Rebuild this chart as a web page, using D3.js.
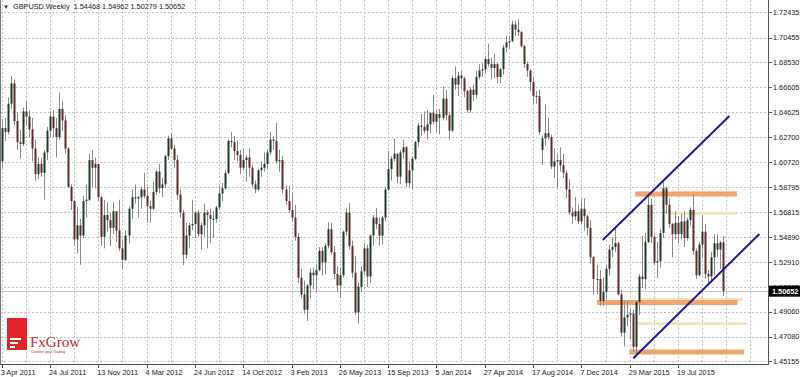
<!DOCTYPE html>
<html>
<head>
<meta charset="utf-8">
<script src="https://cdn.jsdelivr.net/npm/d3@7"></script>
<style>
    body { margin: 0; background: #fff; }
    svg { display: block; font-family: "Liberation Sans", Arial, sans-serif; }
</style>
</head>
<body>
<svg id="chart"></svg>
<script>
// weekly GBPUSD candles [open, high, low, close], week starts on Sunday
const symbol = "GBPUSD.Weekly";
const ohlc2011 = [ // from 3 Apr 2011
    [1.6080,1.6410,1.6030,1.6340],[1.6340,1.6420,1.6240,1.6310],[1.6310,1.6580,1.6290,1.6530],[1.6530,1.6747,1.6490,1.6690],
    [1.6690,1.6720,1.6360,1.6395],[1.6395,1.6460,1.6170,1.6230],[1.6230,1.6330,1.6100,1.6215],[1.6215,1.6500,1.6200,1.6470],
    [1.6470,1.6550,1.6360,1.6430],[1.6430,1.6480,1.6270,1.6330],[1.6330,1.6420,1.6080,1.6180],[1.6180,1.6250,1.5930,1.5980],
    [1.5980,1.6110,1.5940,1.6060],[1.6060,1.6110,1.5960,1.5990],[1.5990,1.6170,1.5780,1.6150],[1.6150,1.6350,1.6090,1.6320],
    [1.6320,1.6470,1.6270,1.6430],[1.6430,1.6480,1.6270,1.6340],[1.6340,1.6420,1.6110,1.6270],[1.6270,1.6618,1.6250,1.6490],
    [1.6490,1.6550,1.6320,1.6400],[1.6400,1.6440,1.6140,1.6180],[1.6180,1.6190,1.5870,1.5880],[1.5880,1.5900,1.5700,1.5770],
    [1.5770,1.5780,1.5420,1.5470],[1.5470,1.5720,1.5360,1.5580],[1.5580,1.5630,1.5272,1.5500],[1.5500,1.5810,1.5480,1.5770],
    [1.5770,1.5900,1.5640,1.5780],[1.5780,1.6140,1.5770,1.6090],[1.6090,1.6166,1.5880,1.6030],[1.6030,1.6110,1.5870,1.6060],
    [1.6060,1.6060,1.5770,1.5800],[1.5800,1.5810,1.5420,1.5490],[1.5490,1.5780,1.5400,1.5660],[1.5660,1.5760,1.5530,1.5620],
    [1.5620,1.5680,1.5420,1.5560],[1.5560,1.5760,1.5510,1.5690],[1.5690,1.5690,1.5450,1.5540]
];
const ohlc2012 = [
    [1.5540,1.5780,1.5380,1.5400],[1.5400,1.5470,1.5234,1.5310],[1.5310,1.5540,1.5300,1.5500],[1.5500,1.5730,1.5440,1.5710],
    [1.5710,1.5860,1.5630,1.5800],[1.5800,1.5900,1.5750,1.5790],[1.5790,1.5810,1.5640,1.5800],[1.5800,1.5880,1.5710,1.5860],
    [1.5860,1.5990,1.5790,1.5810],[1.5810,1.5880,1.5600,1.5730],[1.5730,1.5770,1.5600,1.5710],[1.5710,1.5920,1.5700,1.5840],
    [1.5840,1.6010,1.5820,1.6000],[1.6000,1.6060,1.5830,1.5870],[1.5870,1.5950,1.5800,1.5900],[1.5900,1.6130,1.5870,1.6120],
    [1.6120,1.6280,1.6090,1.6260],[1.6260,1.6301,1.6170,1.6180],[1.6180,1.6210,1.6030,1.6090],[1.6090,1.6130,1.5780,1.5820],
    [1.5820,1.5860,1.5640,1.5680],[1.5680,1.5700,1.5268,1.5350],[1.5350,1.5600,1.5320,1.5500],[1.5500,1.5600,1.5400,1.5580],
    [1.5580,1.5780,1.5540,1.5590],[1.5590,1.5690,1.5480,1.5680],[1.5680,1.5700,1.5490,1.5510],[1.5510,1.5600,1.5390,1.5580],
    [1.5580,1.5750,1.5490,1.5680],[1.5680,1.5700,1.5400,1.5660],[1.5660,1.5710,1.5440,1.5630],[1.5630,1.5690,1.5480,1.5630],
    [1.5630,1.5730,1.5600,1.5720],[1.5720,1.5890,1.5700,1.5830],[1.5830,1.5910,1.5770,1.5870],[1.5870,1.6010,1.5860,1.5990],
    [1.5990,1.6250,1.5980,1.6240],[1.6240,1.6309,1.6190,1.6230],[1.6230,1.6280,1.6090,1.6160],[1.6160,1.6240,1.6080,1.6130],
    [1.6130,1.6170,1.5980,1.6030],[1.6030,1.6180,1.6010,1.6090],[1.6090,1.6130,1.5920,1.6110],[1.6110,1.6180,1.5960,1.6030],
    [1.6030,1.6050,1.5880,1.5900],[1.5900,1.5930,1.5830,1.5860],[1.5860,1.6020,1.5850,1.6010],[1.6010,1.6080,1.5960,1.6030],
    [1.6030,1.6150,1.6000,1.6060],[1.6060,1.6170,1.6020,1.6150],[1.6150,1.6307,1.6130,1.6250],[1.6250,1.6280,1.6170,1.6240],
    [1.6240,1.6380,1.6060,1.6080]
];
const ohlc2013 = [
    [1.6080,1.6170,1.6000,1.6090],[1.6090,1.6120,1.5830,1.5860],[1.5860,1.5890,1.5740,1.5770],[1.5770,1.5890,1.5680,1.5700],
    [1.5700,1.5830,1.5610,1.5640],[1.5640,1.5740,1.5460,1.5490],[1.5490,1.5520,1.5130,1.5170],[1.5170,1.5240,1.5010,1.5040],
    [1.5040,1.5150,1.4890,1.4920],[1.4920,1.5120,1.4832,1.5110],[1.5110,1.5240,1.5010,1.5210],[1.5210,1.5250,1.5080,1.5190],
    [1.5190,1.5280,1.5060,1.5230],[1.5230,1.5410,1.5220,1.5380],[1.5380,1.5410,1.5190,1.5290],[1.5290,1.5440,1.5200,1.5420],
    [1.5420,1.5604,1.5400,1.5550],[1.5550,1.5600,1.5350,1.5370],[1.5370,1.5420,1.5160,1.5200],[1.5200,1.5260,1.5060,1.5110],
    [1.5110,1.5250,1.5010,1.5190],[1.5190,1.5540,1.5170,1.5530],[1.5530,1.5710,1.5500,1.5680],[1.5680,1.5752,1.5390,1.5420],
    [1.5420,1.5460,1.5170,1.5210],[1.5210,1.5340,1.4880,1.4900],[1.4900,1.5130,1.4813,1.5100],[1.5100,1.5260,1.5060,1.5220],
    [1.5220,1.5440,1.5190,1.5400],[1.5400,1.5430,1.5100,1.5180],[1.5180,1.5510,1.5130,1.5500],[1.5500,1.5660,1.5420,1.5640],
    [1.5640,1.5717,1.5550,1.5590],[1.5590,1.5640,1.5420,1.5500],[1.5500,1.5650,1.5430,1.5640],[1.5640,1.5880,1.5610,1.5860],
    [1.5860,1.6160,1.5850,1.6020],[1.6020,1.6120,1.5930,1.6100],[1.6100,1.6259,1.6080,1.6140],[1.6140,1.6140,1.5910,1.5960],
    [1.5960,1.6170,1.5900,1.6150],[1.6150,1.6250,1.6100,1.6190],[1.6190,1.6200,1.5880,1.5910],[1.5910,1.6080,1.5880,1.6010],
    [1.6010,1.6120,1.5860,1.6100],[1.6100,1.6240,1.6090,1.6230],[1.6230,1.6380,1.6190,1.6360],[1.6360,1.6450,1.6280,1.6350],
    [1.6350,1.6470,1.6300,1.6320],[1.6320,1.6480,1.6250,1.6370],[1.6370,1.6460,1.6300,1.6460],[1.6460,1.6602,1.6370,1.6390]
];
const ohlc2014 = [
    [1.6390,1.6480,1.6310,1.6450],[1.6450,1.6490,1.6290,1.6420],[1.6420,1.6668,1.6400,1.6570],[1.6570,1.6640,1.6400,1.6440],
    [1.6440,1.6460,1.6250,1.6320],[1.6320,1.6750,1.6310,1.6730],[1.6730,1.6823,1.6640,1.6680],[1.6680,1.6780,1.6590,1.6750],
    [1.6750,1.6790,1.6650,1.6730],[1.6730,1.6740,1.6580,1.6630],[1.6630,1.6640,1.6460,1.6480],[1.6480,1.6660,1.6460,1.6640],
    [1.6640,1.6680,1.6550,1.6600],[1.6600,1.6790,1.6570,1.6740],[1.6740,1.6840,1.6720,1.6790],[1.6790,1.6850,1.6740,1.6800],
    [1.6800,1.6900,1.6760,1.6880],[1.6880,1.7000,1.6820,1.6840],[1.6840,1.6890,1.6720,1.6810],[1.6810,1.6920,1.6730,1.6840],
    [1.6840,1.6850,1.6690,1.6740],[1.6740,1.6810,1.6690,1.6800],[1.6800,1.6990,1.6760,1.6970],[1.6970,1.7060,1.6930,1.7010],
    [1.7010,1.7060,1.6960,1.7020],[1.7020,1.7180,1.7010,1.7150],[1.7150,1.7180,1.7060,1.7110],[1.7110,1.7192,1.7060,1.7090],
    [1.7090,1.7100,1.6970,1.6980],[1.6980,1.6990,1.6810,1.6840],[1.6840,1.6860,1.6740,1.6790],[1.6790,1.6800,1.6630,1.6700],
    [1.6700,1.6740,1.6530,1.6590],[1.6590,1.6630,1.6530,1.6590],[1.6590,1.6640,1.6290,1.6310],[1.6170,1.6280,1.6052,1.6260],
    [1.6260,1.6525,1.6200,1.6300],[1.6300,1.6420,1.6250,1.6270],[1.6270,1.6290,1.6020,1.6040],[1.6040,1.6180,1.5950,1.6080],
    [1.6080,1.6140,1.5875,1.6090],[1.6090,1.6190,1.6000,1.6050],[1.6050,1.6140,1.5950,1.5990],[1.5990,1.6010,1.5790,1.5860],
    [1.5860,1.5940,1.5660,1.5680],[1.5680,1.5720,1.5590,1.5650],[1.5650,1.5800,1.5620,1.5690],[1.5690,1.5740,1.5590,1.5610],
    [1.5610,1.5790,1.5590,1.5710],[1.5710,1.5790,1.5540,1.5650],[1.5650,1.5660,1.5500,1.5560],[1.5560,1.5620,1.5280,1.5330]
];
const ohlc2015 = [ // up to the week of 1 Nov 2015
    [1.5330,1.5340,1.5035,1.5160],[1.5160,1.5270,1.5040,1.5160],[1.5160,1.5230,1.4952,1.4990],[1.4990,1.5170,1.4950,1.5060],
    [1.5060,1.5270,1.5000,1.5240],[1.5240,1.5430,1.5190,1.5390],[1.5390,1.5490,1.5330,1.5410],[1.5410,1.5552,1.5370,1.5440],
    [1.5440,1.5450,1.5030,1.5040],[1.5040,1.5080,1.4710,1.4740],[1.4740,1.4990,1.4634,1.4860],[1.4860,1.4990,1.4790,1.4880],
    [1.4880,1.4930,1.4690,1.4890],[1.4890,1.4920,1.4590,1.4630],[1.4630,1.4990,1.4565,1.4980],[1.4980,1.5200,1.4880,1.5180],
    [1.5180,1.5498,1.5090,1.5160],[1.5160,1.5520,1.5080,1.5450],[1.5450,1.5815,1.5440,1.5740],[1.5740,1.5790,1.5440,1.5490],
    [1.5490,1.5510,1.5270,1.5290],[1.5290,1.5450,1.5170,1.5300],[1.5300,1.5550,1.5250,1.5520],[1.5520,1.5930,1.5480,1.5870],
    [1.5870,1.5880,1.5670,1.5740],[1.5740,1.5790,1.5560,1.5590],[1.5590,1.5600,1.5330,1.5510],[1.5510,1.5690,1.5470,1.5600],
    [1.5600,1.5650,1.5440,1.5510],[1.5510,1.5670,1.5470,1.5610],[1.5610,1.5690,1.5410,1.5480],[1.5480,1.5640,1.5460,1.5620],
    [1.5620,1.5720,1.5580,1.5700],[1.5700,1.5820,1.5350,1.5380],[1.5380,1.5400,1.5160,1.5190],[1.5190,1.5450,1.5180,1.5430],
    [1.5430,1.5660,1.5330,1.5530],[1.5530,1.5590,1.5160,1.5200],[1.5200,1.5230,1.5110,1.5180],[1.5180,1.5370,1.5130,1.5330],
    [1.5330,1.5510,1.5190,1.5440],[1.5440,1.5510,1.5330,1.5390],[1.5390,1.5460,1.5240,1.54468],[1.54468,1.54962,1.50279,1.50652]
];

const priceTicks = [1.72435, 1.70455, 1.68530, 1.66605, 1.64625, 1.62700, 1.60720, 1.58795,
    1.56815, 1.54890, 1.52910, 1.50985, 1.49060, 1.47080, 1.45155];
// one label every 16 weeks, grid every 8 weeks
const dateLabels = ["3 Apr 2011", "24 Jul 2011", "13 Nov 2011", "4 Mar 2012", "24 Jun 2012", "14 Oct 2012",
    "3 Feb 2013", "26 May 2013", "15 Sep 2013", "5 Jan 2014", "27 Apr 2014", "17 Aug 2014",
    "7 Dec 2014", "29 Mar 2015", "19 Jul 2015"];
const lastPrice = 1.50652;

// drawn objects: [week from, price from, week to, price to]
const trendLines = [[199.07, 1.54652, 241.0, 1.64345], [209.2, 1.45405, 250.94, 1.55121]];
// levels: [week from, week to, price]
const strongLevels = [[209.8, 243.6, 1.58248], [197.1, 243.7, 1.49767], [207.9, 245.9, 1.45897]];
const weakLevels = [[221.4, 243.6, 1.56739], [211.8, 245.5, 1.50002], [210.4, 246.8, 1.48110]];

const candles = [...ohlc2011, ...ohlc2012, ...ohlc2013, ...ohlc2014, ...ohlc2015]
    .map((d, i) => ({i: i, o: d[0], h: d[1], l: d[2], c: d[3]}));

const W = 800, H = 377;
const plot = {left: 0, right: 768, top: 0, bottom: 364};

const svg = d3.select("#chart").attr("width", W).attr("height", H);

const x = d3.scaleLinear().domain([-0.56, 253.8]).range([plot.left, plot.right]);
const y = d3.scaleLinear().domain([1.44959, 1.73412]).range([plot.bottom, plot.top]);

const fmt = d3.format(".5f");

// grid
const grid = svg.append("g").attr("stroke", "#c4c4c4").attr("stroke-dasharray", "2,2").attr("stroke-width", 1);
grid.selectAll(".hg").data(priceTicks).join("line")
    .attr("x1", plot.left).attr("x2", plot.right)
    .attr("y1", d => Math.round(y(d)) + 0.5).attr("y2", d => Math.round(y(d)) + 0.5);
grid.selectAll(".vg").data(d3.range(0, 254, 8)).join("line")
    .attr("x1", d => Math.round(x(d)) + 0.5).attr("x2", d => Math.round(x(d)) + 0.5)
    .attr("y1", plot.top).attr("y2", plot.bottom);

// levels behind candles
svg.append("g").selectAll("rect").data(weakLevels).join("rect")
    .attr("x", d => x(d[0])).attr("width", d => x(d[1]) - x(d[0]))
    .attr("y", d => y(d[2]) - 1.5).attr("height", 3)
    .attr("fill", "#efe4b8");
svg.append("g").selectAll("rect").data(strongLevels).join("rect")
    .attr("x", d => x(d[0])).attr("width", d => x(d[1]) - x(d[0]))
    .attr("y", d => y(d[2]) - 2.5).attr("height", 5)
    .attr("fill", "#f0a56c");

// last price line
svg.append("line")
    .attr("x1", plot.left).attr("x2", plot.right)
    .attr("y1", Math.round(y(lastPrice)) + 0.5).attr("y2", Math.round(y(lastPrice)) + 0.5)
    .attr("stroke", "#c8c8c8");

// candles
const cg = svg.append("g");
cg.selectAll(".wick").data(candles).join("line")
    .attr("x1", d => Math.round(x(d.i)) + 0.5).attr("x2", d => Math.round(x(d.i)) + 0.5)
    .attr("y1", d => y(d.h)).attr("y2", d => y(d.l))
    .attr("stroke", "#8a8a8a").attr("stroke-width", 1);
cg.selectAll(".body").data(candles).join("rect")
    .attr("x", d => Math.round(x(d.i)) - 0.5)
    .attr("width", 2)
    .attr("y", d => y(Math.max(d.o, d.c)))
    .attr("height", d => Math.max(1, Math.abs(y(d.o) - y(d.c))))
    .attr("fill", d => d.c >= d.o ? "#1f3a28" : "#5e2a2a");

// trend channel
svg.append("g").selectAll("line").data(trendLines).join("line")
    .attr("x1", d => x(d[0])).attr("y1", d => y(d[1]))
    .attr("x2", d => x(d[2])).attr("y2", d => y(d[3]))
    .attr("stroke", "#1e1e8e").attr("stroke-width", 2);

// axes
svg.append("line").attr("x1", 0.5).attr("x2", 0.5).attr("y1", plot.top).attr("y2", plot.bottom).attr("stroke", "#777");
svg.append("line").attr("x1", plot.right + 0.5).attr("x2", plot.right + 0.5).attr("y1", plot.top).attr("y2", plot.bottom + 1).attr("stroke", "#555");
svg.append("line").attr("x1", plot.left).attr("x2", plot.right + 1).attr("y1", plot.bottom + 0.5).attr("y2", plot.bottom + 0.5).attr("stroke", "#555");

const yAxis = svg.append("g");
yAxis.selectAll("line").data(priceTicks).join("line")
    .attr("x1", plot.right).attr("x2", plot.right + 4)
    .attr("y1", d => Math.round(y(d)) + 0.5).attr("y2", d => Math.round(y(d)) + 0.5)
    .attr("stroke", "#555");
yAxis.selectAll("text").data(priceTicks).join("text")
    .attr("x", plot.right + 5).attr("y", d => y(d) + 2.6)
    .attr("font-size", 7.3).attr("fill", "#222")
    .text(d => fmt(d));

const xAxis = svg.append("g");
xAxis.selectAll("line").data(dateLabels).join("line")
    .attr("x1", (d, k) => Math.round(x(k * 16)) + 0.5).attr("x2", (d, k) => Math.round(x(k * 16)) + 0.5)
    .attr("y1", plot.bottom).attr("y2", plot.bottom + 4)
    .attr("stroke", "#555");
xAxis.selectAll("text").data(dateLabels).join("text")
    .attr("x", (d, k) => x(k * 16) - 1).attr("y", plot.bottom + 10.5)
    .attr("font-size", 7.3).attr("fill", "#222")
    .text(d => d);

// last price tag
svg.append("rect").attr("x", plot.right + 1).attr("y", y(lastPrice) - 5.5)
    .attr("width", W - plot.right - 1).attr("height", 11).attr("fill", "#000");
svg.append("text").attr("x", plot.right + 4).attr("y", y(lastPrice) + 2.7)
    .attr("font-size", 7.3).attr("fill", "#fff").attr("font-weight", "bold")
    .text(fmt(lastPrice));

// header
const last = candles[candles.length - 1];
svg.append("text").attr("x", 3).attr("y", 8.5).attr("font-size", 6).attr("fill", "#222").text("\u25BC");
svg.append("text").attr("x", 13).attr("y", 9).attr("font-size", 7.3).attr("fill", "#222")
    .attr("xml:space", "preserve")
    .text(`${symbol}  ${fmt(last.o)} ${fmt(last.h)} ${fmt(last.l)} ${fmt(last.c)}`);

// logo
const logo = svg.append("g").attr("transform", "translate(7,318)");
logo.append("rect").attr("width", 20).attr("height", 32).attr("fill", "#e2232a");
logo.append("rect").attr("x", 3).attr("y", 20).attr("width", 11).attr("height", 2).attr("fill", "#fff");
logo.append("rect").attr("x", 3).attr("y", 24).attr("width", 8).attr("height", 2).attr("fill", "#fff");
logo.append("rect").attr("x", 3).attr("y", 28).attr("width", 5).attr("height", 2).attr("fill", "#fff");
logo.append("text").attr("x", 23).attr("y", 29).attr("font-family", "Liberation Serif, serif")
    .attr("font-size", 15).attr("fill", "#c7282e").text("FxGrow");
logo.append("text").attr("x", 24).attr("y", 34.5).attr("font-size", 3.6).attr("fill", "#c7282e")
    .text("Connect your Trading");
</script>
</body>
</html>
